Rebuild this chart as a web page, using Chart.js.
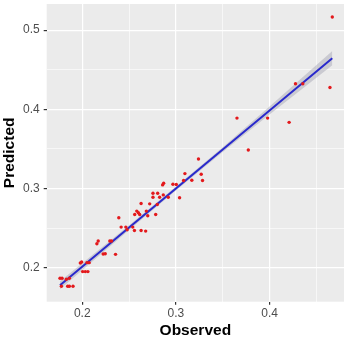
<!DOCTYPE html>
<html>
<head>
<meta charset="utf-8">
<script src="https://cdn.jsdelivr.net/npm/chart.js@4/dist/chart.umd.min.js"></script>
<style>
  html, body { margin: 0; padding: 0; background: #fff; }
  #wrap { width: 348px; height: 340px; }
</style>
</head>
<body>
<div id="wrap"><canvas id="plot" width="348" height="340"></canvas></div>
<script>
// observed vs predicted
const observed = [0.467, 0.4645, 0.4277, 0.4355, 0.4209, 0.3979, 0.3652, 0.3773,
  0.3241, 0.3096, 0.3270, 0.3082, 0.3170, 0.3284, 0.3039, 0.2968, 0.3004, 0.2869,
  0.2858, 0.2755, 0.2805, 0.2755, 0.2826, 0.2865, 0.2918, 0.2628, 0.2720, 0.2801,
  0.2582, 0.2599, 0.2560, 0.2613, 0.2684, 0.2699, 0.2784, 0.2390, 0.2415, 0.2465,
  0.2479, 0.2539, 0.2557, 0.2628, 0.2677, 0.2170, 0.2156, 0.2294, 0.2312, 0.2223,
  0.2245, 0.2355, 0.1979, 0.1993, 0.2050, 0.2074, 0.2004, 0.2032, 0.2060, 0.1762,
  0.1784, 0.1830, 0.1862, 0.1777, 0.1844, 0.1862, 0.1901];
const predicted = [0.5165, 0.4275, 0.4322, 0.4322, 0.3835, 0.3889, 0.3889, 0.3486,
  0.3373, 0.3188, 0.3180, 0.3100, 0.3104, 0.3100, 0.2882, 0.3054, 0.3050, 0.3066,
  0.3045, 0.2940, 0.2940, 0.2890, 0.2890, 0.2919, 0.2890, 0.2810, 0.2806, 0.2798,
  0.2714, 0.2693, 0.2672, 0.2672, 0.2714, 0.2655, 0.2672, 0.2630, 0.2512, 0.2512,
  0.2479, 0.2512, 0.2470, 0.2470, 0.2462, 0.2336, 0.2302, 0.2336, 0.2336, 0.2172,
  0.2176, 0.2168, 0.2059, 0.2071, 0.2063, 0.2063, 0.1950, 0.1950, 0.1950, 0.1866,
  0.1866, 0.1853, 0.1866, 0.1765, 0.1765, 0.1765, 0.1765];

// fitted line and its confidence band
const fitX = [0.1762, 0.25, 0.30, 0.35, 0.40, 0.467];
const fitY = [0.1778, 0.2506, 0.2999, 0.3492, 0.3985, 0.4645];
const bandHalf = [0.005, 0.003, 0.0025, 0.003, 0.005, 0.009];

const xTicks = [0.2, 0.3, 0.4];
const yTicks = [0.2, 0.3, 0.4, 0.5];

const pts = observed.map((v, i) => ({ x: v, y: predicted[i] }));
const fit = fitX.map((v, i) => ({ x: v, y: fitY[i] }));
const lower = fitX.map((v, i) => ({ x: v, y: fitY[i] - bandHalf[i] }));
const upper = fitX.map((v, i) => ({ x: v, y: fitY[i] + bandHalf[i] }));

const panelBg = {
  id: 'panelBg',
  beforeDraw(chart) {
    const a = chart.chartArea, c = chart.ctx;
    c.save();
    c.fillStyle = '#EBEBEB';
    c.fillRect(a.left, a.top, a.right - a.left, a.bottom - a.top);
    c.restore();
  }
};

function isMajor(v, list) {
  return list.some(t => Math.abs(t - v) < 1e-6);
}

function gridOpts(list) {
  return {
    color: '#ffffff',
    lineWidth: ctx => isMajor(ctx.tick.value, list) ? 1.2 : 0.6,
    tickColor: ctx => isMajor(ctx.tick.value, list) ? '#333333' : 'rgba(0,0,0,0)',
    tickLength: 3,
    drawTicks: true
  };
}

new Chart(document.getElementById('plot').getContext('2d'), {
  type: 'scatter',
  data: {
    datasets: [
      {
        label: 'lower',
        type: 'line',
        data: lower,
        borderWidth: 0,
        pointRadius: 0,
        fill: false,
        order: 3
      },
      {
        label: 'upper',
        type: 'line',
        data: upper,
        borderWidth: 0,
        pointRadius: 0,
        fill: '-1',
        backgroundColor: 'rgba(153,153,170,0.4)',
        order: 3
      },
      {
        label: 'fit',
        type: 'line',
        data: fit,
        borderColor: '#2a2acc',
        borderWidth: 2,
        pointRadius: 0,
        fill: false,
        order: 2
      },
      {
        label: 'points',
        data: pts,
        backgroundColor: '#e3191c',
        borderWidth: 0,
        pointRadius: 1.7,
        order: 1
      }
    ]
  },
  options: {
    responsive: false,
    animation: false,
    layout: { padding: { top: 3, right: 3, left: 0, bottom: 0 } },
    plugins: {
      legend: { display: false },
      tooltip: { enabled: false }
    },
    scales: {
      x: {
        type: 'linear',
        min: 0.162,
        max: 0.4795,
        afterBuildTicks: s => { s.ticks = [0.2, 0.25, 0.3, 0.35, 0.4, 0.45].map(v => ({ value: v })); },
        afterFit: s => { s.height = 38.3; s.paddingLeft = 0; s.paddingRight = 0; },
        border: { display: false },
        grid: gridOpts(xTicks),
        ticks: {
          color: '#4D4D4D',
          font: { family: 'Liberation Sans', size: 12 },
          padding: 2,
          maxRotation: 0,
          autoSkip: false,
          callback: v => isMajor(v, xTicks) ? v.toFixed(1) : ''
        },
        title: {
          display: true,
          text: 'Observed',
          color: '#000000',
          font: { family: 'Liberation Sans', size: 15.5, weight: 'bold' },
          padding: { top: 0, bottom: 0 }
        }
      },
      y: {
        type: 'linear',
        min: 0.157,
        max: 0.533,
        afterBuildTicks: s => { s.ticks = [0.2, 0.25, 0.3, 0.35, 0.4, 0.45, 0.5].map(v => ({ value: v })); },
        afterFit: s => { s.width = 46.7; s.paddingTop = 0; s.paddingBottom = 0; },
        border: { display: false },
        grid: gridOpts(yTicks),
        ticks: {
          color: '#4D4D4D',
          font: { family: 'Liberation Sans', size: 12 },
          padding: 4,
          autoSkip: false,
          callback: v => isMajor(v, yTicks) ? v.toFixed(1) : ''
        },
        title: {
          display: true,
          text: 'Predicted',
          color: '#000000',
          font: { family: 'Liberation Sans', size: 15.5, weight: 'bold' },
          padding: { top: 0, bottom: 0 }
        }
      }
    }
  },
  plugins: [panelBg]
});
</script>
</body>
</html>
